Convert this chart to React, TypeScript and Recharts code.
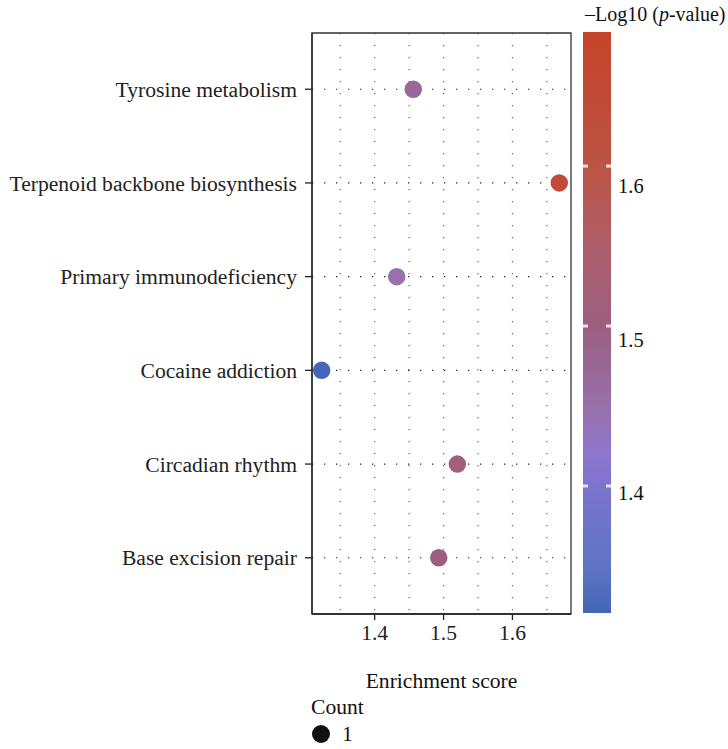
import React from "react";
import {
  ScatterChart,
  Scatter,
  XAxis,
  YAxis,
  ZAxis,
  CartesianGrid,
  Cell,
  ReferenceArea,
  Label,
} from "recharts";

// ---- data ----
const pathways = [
  "Tyrosine metabolism",
  "Terpenoid backbone biosynthesis",
  "Primary immunodeficiency",
  "Cocaine addiction",
  "Circadian rhythm",
  "Base excision repair",
];
const enrichment = [1.456, 1.668, 1.432, 1.323, 1.52, 1.493];
const logP = [1.47, 1.645, 1.45, 1.321, 1.515, 1.5];
const counts = [1, 1, 1, 1, 1, 1];
const xTicks = [1.4, 1.5, 1.6];
const xGridValues = [1.35, 1.4, 1.45, 1.5, 1.55, 1.6, 1.65];
const colorTicks = [1.4, 1.5, 1.6];
const countLegend = [1];

// ---- color scale ----
const X_MIN = 1.309;
const X_MAX = 1.685;
const C_MIN = 1.3206;
const C_MAX = 1.6838;
const colorStops: [number, string][] = [
  [1.3206, "#4466b8"],
  [1.35, "#5f74c2"],
  [1.4, "#7c74cc"],
  [1.42, "#8f76cc"],
  [1.45, "#9870aa"],
  [1.5, "#9c5f80"],
  [1.55, "#ad5e6a"],
  [1.6, "#bb5444"],
  [1.6838, "#c6432a"],
];

function hexToRgb(h: string) {
  const n = parseInt(h.slice(1), 16);
  return [(n >> 16) & 255, (n >> 8) & 255, n & 255];
}
function colorFor(v: number) {
  if (v <= colorStops[0][0]) return colorStops[0][1];
  for (let i = 1; i < colorStops.length; i++) {
    const [v1, c1] = colorStops[i];
    const [v0, c0] = colorStops[i - 1];
    if (v <= v1) {
      const t = (v - v0) / (v1 - v0);
      const a = hexToRgb(c0);
      const b = hexToRgb(c1);
      const r = a.map((x, k) => Math.round(x + (b[k] - x) * t));
      return `rgb(${r[0]},${r[1]},${r[2]})`;
    }
  }
  return colorStops[colorStops.length - 1][1];
}

const data = pathways.map((p, i) => ({
  name: p,
  x: enrichment[i],
  y: i + 1,
  logp: logP[i],
  count: counts[i],
}));

const FONT = '"Liberation Serif", "Times New Roman", serif';
const FS = 21.6;

// colorbar geometry
const CB_X = 583;
const CB_W = 28;
const CB_TOP = 32;
const CB_BOTTOM = 613;
const cbY = (v: number) =>
  CB_TOP + ((C_MAX - v) / (C_MAX - C_MIN)) * (CB_BOTTOM - CB_TOP);
// labels in the reference sit on a slightly compressed spacing
const cbLabelY = (v: number) => 193 + (1.6 - v) * 1535;

function Overlay() {
  const stops = [...colorStops].reverse().map(([v, c], i) => (
    <stop
      key={i}
      offset={`${((C_MAX - v) / (C_MAX - C_MIN)) * 100}%`}
      stopColor={c}
    />
  ));
  return (
    <svg
      width={728}
      height={749}
      style={{ position: "absolute", left: 0, top: 0, pointerEvents: "none" }}
    >
      <defs>
        <linearGradient id="cbgrad" x1="0" y1="0" x2="0" y2="1">
          {stops}
        </linearGradient>
      </defs>
      <text x={585} y={21} fontFamily={FONT} fontSize={20} fill="#111">
        –Log10 (<tspan fontStyle="italic">p</tspan>-value)
      </text>
      <rect
        x={CB_X}
        y={CB_TOP}
        width={CB_W}
        height={CB_BOTTOM - CB_TOP}
        fill="url(#cbgrad)"
      />
      {colorTicks.map((v) => (
        <g key={v}>
          <rect x={CB_X} y={cbY(v) - 1.5} width={5} height={3} fill="#f3dde0" />
          <rect
            x={CB_X + CB_W - 5}
            y={cbY(v) - 1.5}
            width={5}
            height={3}
            fill="#f3dde0"
          />
          <text
            x={618}
            y={cbLabelY(v)}
            fontFamily={FONT}
            fontSize={20.5}
            fill="#111"
          >
            {v.toFixed(1)}
          </text>
        </g>
      ))}
      <text x={311} y={714} fontFamily={FONT} fontSize={FS} fill="#111">
        Count
      </text>
      {countLegend.map((c) => (
        <g key={c}>
          <circle cx={321} cy={734} r={9} fill="#111" />
          <text x={342} y={741} fontFamily={FONT} fontSize={FS} fill="#111">
            {c}
          </text>
        </g>
      ))}
    </svg>
  );
}

export default function App() {
  return (
    <div
      style={{
        position: "absolute",
        left: 0,
        top: 0,
        width: 728,
        height: 749,
        background: "#fff",
      }}
    >
      <ScatterChart
        width={728}
        height={749}
        margin={{ top: 33, right: 157, bottom: 95, left: 0 }}
      >
        <CartesianGrid
          horizontal={false}
          vertical={true}
          verticalValues={xGridValues}
          stroke="#666"
          strokeWidth={1.2}
          strokeDasharray="1.3 10.7"
        />
        <CartesianGrid
          horizontal={true}
          vertical={false}
          horizontalValues={[1, 2, 3, 4, 5, 6]}
          stroke="#222"
          strokeWidth={1.2}
          strokeDasharray="1.3 10.7"
        />
        <XAxis
          type="number"
          dataKey="x"
          domain={[X_MIN, X_MAX]}
          ticks={xTicks}
          allowDataOverflow
          height={40}
          tickSize={6}
          tickMargin={5}
          tickFormatter={(v: number) => v.toFixed(1)}
          tick={{ fontFamily: FONT, fontSize: FS, fill: "#222" }}
          axisLine={{ stroke: "#222", strokeWidth: 1.3 }}
          tickLine={{ stroke: "#222", strokeWidth: 1.3 }}
        >
          <Label
            value="Enrichment score"
            position="bottom"
            offset={19}
            style={{ fontFamily: FONT, fontSize: FS, fill: "#111" }}
          />
        </XAxis>
        <YAxis
          type="number"
          dataKey="y"
          domain={[0.4, 6.6]}
          reversed
          ticks={[1, 2, 3, 4, 5, 6]}
          interval={0}
          allowDataOverflow
          width={312}
          tickSize={7}
          tickMargin={8}
          tickFormatter={(v: number) => pathways[v - 1] ?? ""}
          tick={{ fontFamily: FONT, fontSize: FS, fill: "#222" }}
          axisLine={{ stroke: "#222", strokeWidth: 1.3 }}
          tickLine={{ stroke: "#222", strokeWidth: 1.3 }}
        />
        <ZAxis type="number" dataKey="count" range={[240, 240]} />
        <ReferenceArea
          x1={X_MIN}
          x2={X_MAX}
          y1={0.4}
          y2={6.6}
          fill="none"
          stroke="#333"
          strokeWidth={1.3}
          ifOverflow="visible"
        />
        <Scatter data={data} isAnimationActive={false}>
          {data.map((d, i) => (
            <Cell key={i} fill={colorFor(d.logp)} />
          ))}
        </Scatter>
      </ScatterChart>
      <Overlay />
    </div>
  );
}
